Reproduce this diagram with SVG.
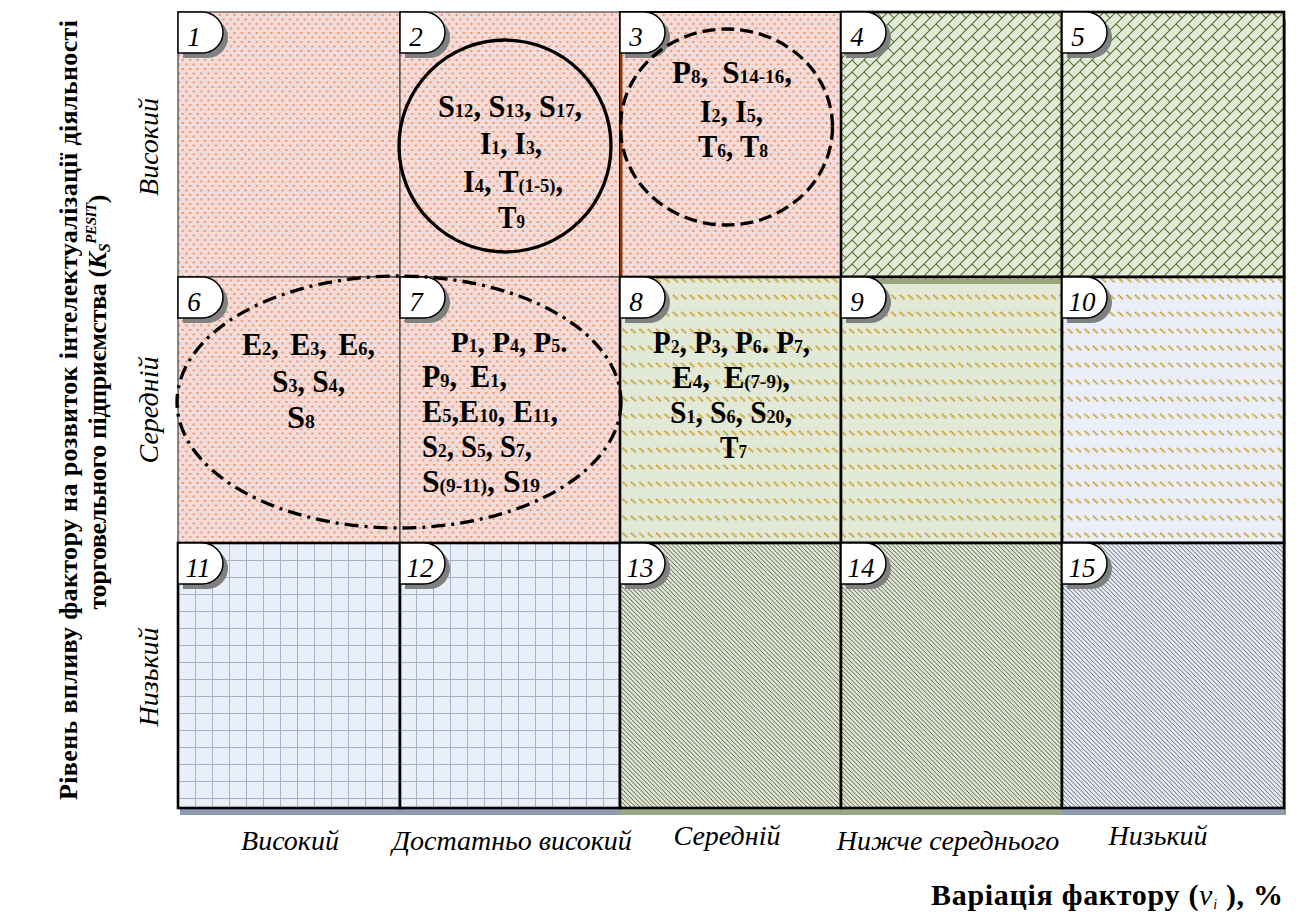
<svg xmlns="http://www.w3.org/2000/svg" width="1300" height="923" viewBox="0 0 1300 923">
<style>
.cell{font-family:"Liberation Serif","Times New Roman",serif;font-weight:bold;font-size:31px;fill:#000}
.sb{font-size:19px}
.num{font-family:"Liberation Serif","Times New Roman",serif;font-style:italic;font-size:27px;fill:#000;text-anchor:middle}
.lab{font-family:"Liberation Serif","Times New Roman",serif;font-style:italic;font-size:28px;fill:#000;text-anchor:middle}
.ttl{font-family:"Liberation Serif","Times New Roman",serif;font-weight:bold;font-size:26px;fill:#000;text-anchor:middle}
.thin{stroke:#3c3c3c;stroke-width:1.2}
.thick{stroke:#000;stroke-width:2.6}
</style>
<defs>
<pattern id="pDots" width="7.4" height="9" patternUnits="userSpaceOnUse">
<rect width="7.4" height="9" fill="#f2dcdb"/>
<rect x="0.5" y="0.5" width="1.9" height="1.9" fill="#f4894a"/>
<rect x="4.2" y="5" width="1.9" height="1.9" fill="#f4894a"/>
</pattern>
<pattern id="pShingle" width="12" height="12" patternUnits="userSpaceOnUse">
<rect width="12" height="12" fill="#e3e9d7"/>
<path d="M0,12 L12,0 M-1,1 L1,-1 M11,13 L13,11 M0,0 L6,6" stroke="#4a6b25" stroke-width="1.05" fill="none"/>
</pattern>
<pattern id="pGoldG" width="8.4" height="17" patternUnits="userSpaceOnUse">
<rect width="8.4" height="17" fill="#e3e9d7"/>
<path d="M1,6 L6,10.5" stroke="#c8960f" stroke-width="1.9" stroke-dasharray="1.6 0.6"/>
</pattern>
<pattern id="pGoldB" width="8.4" height="17" patternUnits="userSpaceOnUse">
<rect width="8.4" height="17" fill="#e9eef8"/>
<path d="M1,6 L6,10.5" stroke="#c8960f" stroke-width="1.9" stroke-dasharray="1.6 0.6"/>
</pattern>
<pattern id="pGrid" x="178" y="543" width="17" height="17" patternUnits="userSpaceOnUse">
<rect width="17" height="17" fill="#e9eff9"/>
<path d="M0,0 V17 M0,0 H17" stroke="#a4b2c7" stroke-width="2"/>
</pattern>
<pattern id="pDiagG" width="4.4" height="4.4" patternUnits="userSpaceOnUse">
<rect width="4.4" height="4.4" fill="#e1e8d2"/>
<path d="M-1,-1 L5.4,5.4 M-1,3.4 L1,5.4 M3.4,-1 L5.4,1" stroke="#3e3e3e" stroke-width="0.85"/>
</pattern>
<pattern id="pDiagB" width="4.4" height="4.4" patternUnits="userSpaceOnUse">
<rect width="4.4" height="4.4" fill="#e8edf7"/>
<path d="M-1,-1 L5.4,5.4 M-1,3.4 L1,5.4 M3.4,-1 L5.4,1" stroke="#4a4a55" stroke-width="0.85"/>
</pattern>
<g id="tab">
<path d="M5,5 h24 a21,20.5 0 0 1 0,41 h-24 z" fill="#808080"/>
<path d="M0,0 h24 a21,20.5 0 0 1 0,41 h-24 z" fill="#fff" stroke="#000" stroke-width="1.5"/>
</g>
</defs>

<g id="shadows">
<rect x="180" y="808" width="220" height="7" fill="#8e9cb1"/>
<rect x="400" y="808" width="220" height="7" fill="#8e9cb1"/>
<rect x="620" y="808" width="221" height="7" fill="#9ba784"/>
<rect x="841" y="808" width="221" height="7" fill="#9ba784"/>
<rect x="1062" y="808" width="224" height="7" fill="#8e9cb1"/>
<rect x="1284" y="19" width="2" height="796" fill="#8a9a78"/>
</g>

<g id="cell-1"><rect x="178" y="12" width="222" height="265" fill="url(#pDots)" class="thin"/><use href="#tab" x="178" y="12"/><text class="num" x="194" y="46">1</text></g>
<g id="cell-2"><rect x="400" y="12" width="220" height="265" fill="url(#pDots)" class="thin"/><use href="#tab" x="400" y="12"/><text class="num" x="416" y="46">2</text></g>
<g id="cell-3"><rect x="620" y="12" width="221" height="265" fill="url(#pDots)" stroke="#000" stroke-width="2"/><rect x="620" y="53" width="2.5" height="224" fill="#8a3a0c"/><use href="#tab" x="620" y="12"/><text class="num" x="636" y="46">3</text></g>
<g id="cell-4"><rect x="841" y="12" width="221" height="265" fill="url(#pShingle)" class="thick"/><use href="#tab" x="841" y="12"/><text class="num" x="857" y="46">4</text></g>
<g id="cell-5"><rect x="1062" y="12" width="222" height="265" fill="url(#pShingle)" class="thick"/><use href="#tab" x="1062" y="12"/><text class="num" x="1078" y="46">5</text></g>

<g id="cell-6"><rect x="178" y="277" width="222" height="266" fill="url(#pDots)" class="thin"/><use href="#tab" x="178" y="277"/><text class="num" x="194" y="311">6</text></g>
<g id="cell-7"><rect x="400" y="277" width="220" height="266" fill="url(#pDots)" class="thin"/><use href="#tab" x="400" y="277"/><text class="num" x="416" y="311">7</text></g>
<g id="cell-8"><rect x="620" y="277" width="221" height="266" fill="url(#pGoldG)" class="thick"/><use href="#tab" x="620" y="277"/><text class="num" x="636" y="311">8</text></g>
<g id="cell-9"><rect x="841" y="277" width="221" height="266" fill="url(#pGoldG)" class="thick"/><rect x="843" y="279" width="218" height="5" fill="#9aa57e"/><use href="#tab" x="841" y="277"/><text class="num" x="857" y="311">9</text></g>
<g id="cell-10"><rect x="1062" y="277" width="222" height="266" fill="url(#pGoldB)" class="thick"/><use href="#tab" x="1062" y="277"/><text class="num" x="1082" y="311">10</text></g>

<g id="cell-11"><rect x="178" y="543" width="222" height="265" fill="url(#pGrid)" class="thick"/><use href="#tab" x="178" y="543"/><text class="num" x="198" y="577">11</text></g>
<g id="cell-12"><rect x="400" y="543" width="220" height="265" fill="url(#pGrid)" class="thick"/><use href="#tab" x="400" y="543"/><text class="num" x="420" y="577">12</text></g>
<g id="cell-13"><rect x="620" y="543" width="221" height="265" fill="url(#pDiagG)" class="thick"/><use href="#tab" x="620" y="543"/><text class="num" x="640" y="577">13</text></g>
<g id="cell-14"><rect x="841" y="543" width="221" height="265" fill="url(#pDiagG)" class="thick"/><use href="#tab" x="841" y="543"/><text class="num" x="861" y="577">14</text></g>
<g id="cell-15"><rect x="1062" y="543" width="222" height="265" fill="url(#pDiagB)" class="thick"/><use href="#tab" x="1062" y="543"/><text class="num" x="1082" y="577">15</text></g>

<g id="connectors" fill="none" stroke="#000" stroke-width="3.3">
<circle cx="505" cy="146" r="106"/>
<ellipse cx="726.5" cy="127" rx="106" ry="98" stroke-dasharray="13 6"/>
<ellipse cx="399" cy="402" rx="222" ry="126" stroke-dasharray="14 6 3 6"/>
</g>

<g id="text-2" class="cell" text-anchor="middle">
<text x="510" y="117" textLength="144" lengthAdjust="spacingAndGlyphs">S<tspan class="sb">12</tspan>, S<tspan class="sb">13</tspan>, S<tspan class="sb">17</tspan>,</text>
<text x="511" y="154" textLength="62" lengthAdjust="spacingAndGlyphs">I<tspan class="sb">1</tspan>, I<tspan class="sb">3</tspan>,</text>
<text x="513" y="192" textLength="100" lengthAdjust="spacingAndGlyphs">I<tspan class="sb">4</tspan>, T<tspan class="sb">(1-5)</tspan>,</text>
<text x="511.5" y="228" textLength="27" lengthAdjust="spacingAndGlyphs">T<tspan class="sb">9</tspan></text>
</g>
<g id="text-3" class="cell" text-anchor="middle">
<text x="732" y="83" textLength="120" lengthAdjust="spacingAndGlyphs">P<tspan class="sb">8</tspan>, <tspan dx="6">S</tspan><tspan class="sb">14-16</tspan>,</text>
<text x="731.5" y="122" textLength="63" lengthAdjust="spacingAndGlyphs">I<tspan class="sb">2</tspan>, I<tspan class="sb">5</tspan>,</text>
<text x="733" y="157" textLength="70" lengthAdjust="spacingAndGlyphs">T<tspan class="sb">6</tspan>, T<tspan class="sb">8</tspan></text>
</g>
<g id="text-6" class="cell" text-anchor="middle">
<text x="308.5" y="355" textLength="133" lengthAdjust="spacingAndGlyphs">E<tspan class="sb">2</tspan>, <tspan dx="4">E</tspan><tspan class="sb">3</tspan>, <tspan dx="4">E</tspan><tspan class="sb">6</tspan>,</text>
<text x="308.5" y="392" textLength="73" lengthAdjust="spacingAndGlyphs">S<tspan class="sb">3</tspan>, S<tspan class="sb">4</tspan>,</text>
<text x="301" y="428" textLength="28" lengthAdjust="spacingAndGlyphs">S<tspan class="sb">8</tspan></text>
</g>
<g id="text-7" class="cell">
<text x="451" y="352" style="font-size:29px">P<tspan style="font-size:18px">1</tspan>, P<tspan style="font-size:18px">4</tspan>, P<tspan style="font-size:18px">5</tspan>.</text>
<text x="422" y="387" textLength="85" lengthAdjust="spacingAndGlyphs">P<tspan class="sb">9</tspan>, <tspan dx="6">E</tspan><tspan class="sb">1</tspan>,</text>
<text x="422" y="422" textLength="136" lengthAdjust="spacingAndGlyphs">E<tspan class="sb">5</tspan>,E<tspan class="sb">10</tspan>, E<tspan class="sb">11</tspan>,</text>
<text x="422" y="457" textLength="110" lengthAdjust="spacingAndGlyphs">S<tspan class="sb">2</tspan>, S<tspan class="sb">5</tspan>, S<tspan class="sb">7</tspan>,</text>
<text x="422" y="492" textLength="118" lengthAdjust="spacingAndGlyphs">S<tspan class="sb">(9-11)</tspan>, S<tspan class="sb">19</tspan></text>
</g>
<g id="text-8" class="cell" text-anchor="middle">
<text x="731.5" y="353" textLength="157" lengthAdjust="spacingAndGlyphs">P<tspan class="sb">2</tspan>, P<tspan class="sb">3</tspan>, P<tspan class="sb">6</tspan>. P<tspan class="sb">7</tspan>,</text>
<text x="731" y="388" textLength="118" lengthAdjust="spacingAndGlyphs">E<tspan class="sb">4</tspan>, <tspan dx="6">E</tspan><tspan class="sb">(7-9)</tspan>,</text>
<text x="731" y="423" textLength="122" lengthAdjust="spacingAndGlyphs">S<tspan class="sb">1</tspan>, S<tspan class="sb">6</tspan>, S<tspan class="sb">20</tspan>,</text>
<text x="733.5" y="458" textLength="27" lengthAdjust="spacingAndGlyphs">T<tspan class="sb">7</tspan></text>
</g>

<g id="row-labels" class="lab">
<text transform="translate(158,147) rotate(-90)">Високий</text>
<text transform="translate(158,410) rotate(-90)">Середній</text>
<text transform="translate(158,677) rotate(-90)">Низький</text>
</g>
<g id="col-labels" class="lab">
<text x="290" y="850">Високий</text>
<text x="512" y="850">Достатньо високий</text>
<text x="727" y="845">Середній</text>
<text x="948" y="850">Нижче середнього</text>
<text x="1158" y="845">Низький</text>
</g>
<g id="y-title" class="ttl">
<text transform="translate(77,410) rotate(-90)" textLength="780">Рівень впливу фактору на розвиток інтелектуалізації діяльності</text>
<text transform="translate(106,402) rotate(-90)" textLength="415">торговельного підприємства (<tspan font-style="italic">K</tspan><tspan font-style="italic" font-size="16" dy="4">S</tspan><tspan font-style="italic" font-size="15" dy="-14">PESIT</tspan><tspan dy="10">)</tspan></text>
</g>
<g id="x-title">
<text x="1283" y="905" class="ttl" style="font-size:30px;text-anchor:end" textLength="352">Варіація фактору (<tspan font-weight="normal" font-style="italic">ν</tspan><tspan font-weight="normal" font-style="italic" font-size="14" dy="4">i</tspan><tspan dy="-4"> ), %</tspan></text>
</g>
</svg>
